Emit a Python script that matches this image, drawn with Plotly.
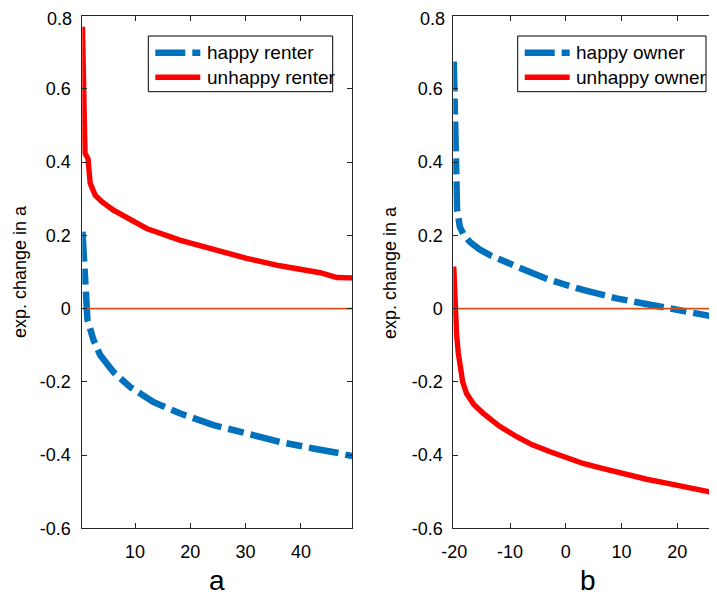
import plotly.graph_objects as go

W, H = 717, 596
OFF = 8  # the page places the figure 8 px from the window's top-left corner

# ---------------- data ----------------
renter_x_happy = [0.5, 0.7, 1.0, 1.4, 2.5, 3.7, 6.1, 9.1, 13.3, 18.1, 24.2, 30.2, 36.2, 42.2, 44.7, 47.0, 49.3]
renter_y_happy = [0.21, 0.14, 0.05, -0.03, -0.086, -0.127, -0.173, -0.214, -0.255, -0.286, -0.318, -0.341,
                  -0.364, -0.382, -0.387, -0.395, -0.403]
renter_x_unhappy = [0.5, 0.8, 0.96, 1.5, 1.9, 2.8, 4.0, 6.1, 9.0, 12.1, 18.1, 24.2, 30.2, 36.2, 42.2, 43.5,
                    46.5, 49.3]
renter_y_unhappy = [0.77, 0.57, 0.424, 0.41, 0.342, 0.31, 0.292, 0.269, 0.243, 0.219, 0.187, 0.16, 0.137,
                    0.117, 0.10, 0.098, 0.085, 0.084]

owner_x_happy = [-20.1, -19.9, -19.7, -19.5, -19.0, -18.4, -17.2, -15.5, -13.6, -11.0, -8.8, -6.0, -2.8, 0.0,
                 3.1, 9.1, 15.1, 21.1, 24.1, 27.2]
owner_y_happy = [0.675, 0.50, 0.35, 0.27, 0.223, 0.205, 0.182, 0.162, 0.146, 0.128, 0.114, 0.097, 0.078,
                 0.064, 0.051, 0.028, 0.01, -0.007, -0.018, -0.024]
owner_x_unhappy = [-20.1, -19.9, -19.6, -19.3, -19.0, -18.5, -17.8, -16.5, -14.8, -12.0, -8.8, -6.0, -2.8,
                   0.0, 3.1, 6.0, 9.1, 12.0, 14.5, 18.5, 20.5, 22.8, 25.0, 27.2]
owner_y_unhappy = [0.115, 0.023, -0.068, -0.12, -0.159, -0.2, -0.232, -0.262, -0.286, -0.32, -0.35, -0.372,
                   -0.391, -0.406, -0.423, -0.434, -0.446, -0.456, -0.466, -0.478, -0.485, -0.49, -0.5,
                   -0.505]

left_xrange = [0.47, 49.24]
right_xrange = [-20.18, 27.12]
yrange = [-0.6, 0.8]

left_xticks = [10, 20, 30, 40]
right_xticks = [-20, -10, 0, 10, 20]
right_xticktext = ["-20", "-10", "0", "10", "20"]
yticks = [-0.6, -0.4, -0.2, 0, 0.2, 0.4, 0.6, 0.8]
yticktext = ["-0.6", "-0.4", "-0.2", "0", "0.2", "0.4", "0.6", "0.8"]

names_left = ["happy renter", "unhappy renter"]
names_right = ["happy owner", "unhappy owner"]
xtitles = ["a", "b"]
ytitle = "exp. change in a"

# ---------------- styles ----------------
BLUE = "#0072BD"
RED = "#FF0000"
ORANGE = "#D95319"
AX = "#262626"
FONT = "Liberation Sans, Arial, Helvetica, sans-serif"
BLUE_DASH = "30px,7px,16px,7px"


def px(sx):
    """screen x pixel -> paper fraction"""
    return (sx - OFF) / W


def py(sy):
    """screen y pixel -> paper fraction"""
    return 1 - (sy - OFF) / H


fig = go.Figure()

fig.add_trace(go.Scatter(x=renter_x_happy, y=renter_y_happy, mode="lines", name=names_left[0],
                         line=dict(color=BLUE, width=6.5, dash=BLUE_DASH), xaxis="x", yaxis="y",
                         showlegend=False))
fig.add_trace(go.Scatter(x=renter_x_unhappy, y=renter_y_unhappy, mode="lines", name=names_left[1],
                         line=dict(color=RED, width=5.4), xaxis="x", yaxis="y", showlegend=False))
fig.add_trace(go.Scatter(x=left_xrange, y=[0, 0], mode="lines", line=dict(color=ORANGE, width=1.6),
                         xaxis="x", yaxis="y", showlegend=False, hoverinfo="skip"))

fig.add_trace(go.Scatter(x=owner_x_happy, y=owner_y_happy, mode="lines", name=names_right[0],
                         line=dict(color=BLUE, width=6.5, dash=BLUE_DASH), xaxis="x2", yaxis="y2",
                         showlegend=False))
fig.add_trace(go.Scatter(x=owner_x_unhappy, y=owner_y_unhappy, mode="lines", name=names_right[1],
                         line=dict(color=RED, width=5.4), xaxis="x2", yaxis="y2", showlegend=False))
fig.add_trace(go.Scatter(x=right_xrange, y=[0, 0], mode="lines", line=dict(color=ORANGE, width=1.6),
                         xaxis="x2", yaxis="y2", showlegend=False, hoverinfo="skip"))

# the topmost tick label sits against the top edge; it is written as an annotation just below it
axis_yticktext = yticktext[:-1] + [""]

ydom = [py(528.3), py(15.7)]
axis_common = dict(showline=True, linecolor=AX, linewidth=1, ticks="inside", ticklen=5, tickcolor=AX,
                   tickwidth=1, showgrid=False, zeroline=False, automargin=False,
                   tickfont=dict(family=FONT, size=18, color="#000000"))

fig.update_layout(
    width=W, height=H,
    autosize=False,
    margin=dict(l=0, r=0, t=0, b=0, pad=0, autoexpand=False),
    paper_bgcolor="white", plot_bgcolor="white",
    showlegend=False,
    xaxis=dict(domain=[px(82.3), px(352)], range=left_xrange, tickvals=left_xticks, mirror="ticks",
               anchor="y", ticklabelstandoff=7, **axis_common),
    yaxis=dict(domain=ydom, range=yrange, tickvals=yticks, ticktext=axis_yticktext, mirror="ticks",
               anchor="x", ticklabelstandoff=7, **axis_common),
    xaxis2=dict(domain=[px(453.3), px(717)], range=right_xrange, tickvals=right_xticks,
                ticktext=right_xticktext, mirror="ticks", anchor="y2", ticklabelstandoff=7, **axis_common),
    yaxis2=dict(domain=ydom, range=yrange, tickvals=yticks, ticktext=axis_yticktext, mirror=False,
                anchor="x2", ticklabelstandoff=6, **axis_common),
)

shapes = []
annotations = []

# top tick labels
for rx in (73.3, 445.8):
    annotations.append(dict(text=yticktext[-1], x=px(rx), y=1, xref="paper", yref="paper",
                            showarrow=False, xanchor="right", yanchor="top", borderpad=0,
                            font=dict(family=FONT, size=18, color="#000000")))

# axis titles
for label, cx in zip(xtitles, (217, 588)):
    annotations.append(dict(text=label, x=px(cx), y=py(598), xref="paper", yref="paper",
                            showarrow=False, xanchor="center", yanchor="bottom",
                            font=dict(family=FONT, size=28, color="#000000")))
for cx in (20, 390):
    annotations.append(dict(text=ytitle, x=px(cx), y=py(272), xref="paper", yref="paper",
                            showarrow=False, xanchor="center", yanchor="middle", textangle=-90,
                            font=dict(family=FONT, size=18, color="#000000")))

# legends
for (x0, x1, names) in ((148.3, 332.7, names_left), (517.7, 706.0, names_right)):
    shapes.append(dict(type="rect", xref="paper", yref="paper", x0=px(x0), x1=px(x1), y0=py(91.7),
                       y1=py(36), line=dict(color="#000000", width=1), fillcolor="white", layer="above"))
    lx0 = x0 + 7
    lx1 = lx0 + 45
    shapes.append(dict(type="line", xref="paper", yref="paper", x0=px(lx0), x1=px(lx1), y0=py(52.7),
                       y1=py(52.7), line=dict(color=BLUE, width=6.5, dash=BLUE_DASH), layer="above"))
    shapes.append(dict(type="line", xref="paper", yref="paper", x0=px(lx0), x1=px(lx1), y0=py(77.3),
                       y1=py(77.3), line=dict(color=RED, width=5.4), layer="above"))
    for name, yy in zip(names, (52.7, 77.3)):
        annotations.append(dict(text=name, x=px(x0 + 56.7), y=py(yy), xref="paper", yref="paper",
                                showarrow=False, xanchor="left", yanchor="middle",
                                font=dict(family=FONT, size=19, color="#000000")))

fig.update_layout(shapes=shapes, annotations=annotations)

fig.write_html("out.html")
